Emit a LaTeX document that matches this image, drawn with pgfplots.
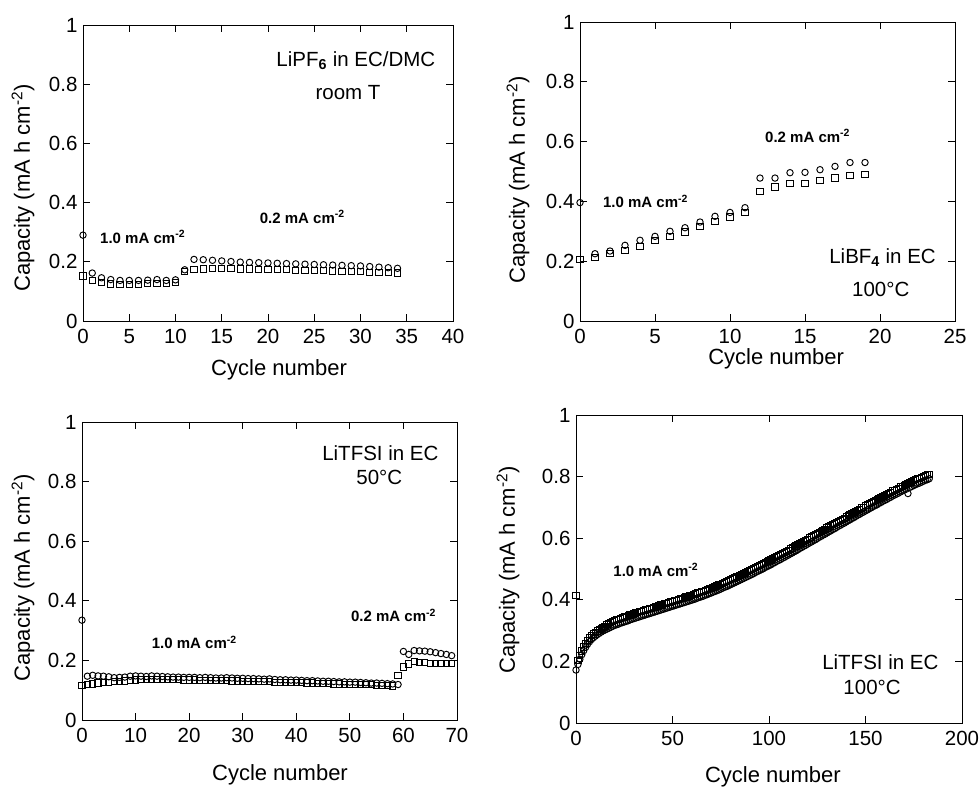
\documentclass[border=0pt]{standalone}
\usepackage{fontspec}
\setmainfont{Liberation Sans}
\usepackage{pgfplots}
\pgfplotsset{compat=1.18}
\usepackage{pgfplotstable}

% LiPF6 in EC/DMC, room T
\pgfplotstableread{
x c s
0 0.290 0.152
1 0.162 0.138
2 0.146 0.130
3 0.140 0.125
4 0.137 0.124
5 0.137 0.124
6 0.137 0.124
7 0.138 0.127
8 0.140 0.127
9 0.137 0.127
10 0.139 0.130
11 0.173 0.167
12 0.208 0.173
13 0.207 0.176
14 0.205 0.177
15 0.203 0.177
16 0.201 0.177
17 0.199 0.176
18 0.198 0.176
19 0.197 0.175
20 0.196 0.175
21 0.195 0.174
22 0.194 0.173
23 0.193 0.172
24 0.192 0.172
25 0.191 0.171
26 0.190 0.170
27 0.189 0.169
28 0.188 0.168
29 0.187 0.167
30 0.186 0.166
31 0.184 0.165
32 0.182 0.164
33 0.180 0.163
34 0.178 0.162
}\tabA

% LiBF4 in EC, 100 C
\pgfplotstableread{
x c s
0 0.396 0.206
1 0.225 0.212
2 0.234 0.225
3 0.253 0.236
4 0.270 0.250
5 0.283 0.270
6 0.300 0.284
7 0.312 0.298
8 0.331 0.317
9 0.350 0.333
10 0.363 0.348
11 0.379 0.362
12 0.478 0.434
13 0.478 0.448
14 0.496 0.461
15 0.497 0.460
16 0.506 0.470
17 0.517 0.478
18 0.530 0.487
19 0.530 0.490
}\tabB

% LiTFSI in EC, 50 C
\pgfplotstableread{
x c s
0 0.335 0.115
1 0.147 0.118
2 0.150 0.121
3 0.148 0.124
4 0.147 0.125
5 0.145 0.125
6 0.142 0.128
7 0.143 0.130
8 0.144 0.131
9 0.147 0.133
10 0.148 0.134
11 0.147 0.135
12 0.146 0.136
13 0.148 0.137
14 0.147 0.137
15 0.146 0.136
16 0.145 0.135
17 0.144 0.135
18 0.144 0.135
19 0.143 0.134
20 0.143 0.134
21 0.143 0.134
22 0.142 0.133
23 0.143 0.133
24 0.142 0.133
25 0.141 0.132
26 0.141 0.132
27 0.142 0.132
28 0.141 0.131
29 0.140 0.131
30 0.140 0.130
31 0.139 0.130
32 0.139 0.129
33 0.138 0.129
34 0.137 0.128
35 0.138 0.128
36 0.136 0.127
37 0.135 0.127
38 0.135 0.126
39 0.134 0.126
40 0.134 0.125
41 0.133 0.125
42 0.132 0.124
43 0.132 0.124
44 0.131 0.123
45 0.130 0.122
46 0.130 0.122
47 0.129 0.121
48 0.128 0.121
49 0.128 0.120
50 0.127 0.120
51 0.127 0.119
52 0.126 0.119
53 0.125 0.118
54 0.124 0.118
55 0.124 0.117
56 0.123 0.116
57 0.122 0.115
58 0.121 0.114
59 0.119 0.149
60 0.230 0.178
61 0.220 0.188
62 0.233 0.196
63 0.232 0.193
64 0.231 0.192
65 0.229 0.191
66 0.226 0.190
67 0.223 0.190
68 0.220 0.190
69 0.216 0.190
}\tabC

% LiTFSI in EC, 100 C
\pgfplotstableread{
x c s
0 .172 .415
1 .190 .202
2 .207 .219
3 .222 .234
4 .235 .247
5 .246 .258
6 .256 .268
7 .264 .276
8 .271 .283
9 .277 .289
10 .282 .294
11 .287 .299
12 .291 .303
13 .295 .307
14 .299 .311
15 .302 .314
16 .305 .321
17 .308 .324
18 .311 .327
19 .314 .330
20 .317 .333
21 .319 .335
22 .321 .337
23 .324 .340
24 .326 .342
25 .328 .344
26 .330 .346
27 .332 .348
28 .335 .351
29 .337 .353
30 .339 .355
31 .341 .357
32 .343 .359
33 .345 .361
34 .347 .363
35 .349 .365
36 .351 .367
37 .353 .369
38 .355 .371
39 .357 .373
40 .359 .375
41 .361 .377
42 .363 .379
43 .365 .381
44 .367 .383
45 .369 .385
46 .371 .387
47 .373 .389
48 .375 .391
49 .377 .393
50 .379 .395
51 .381 .397
52 .383 .399
53 .385 .401
54 .387 .403
55 .389 .405
56 .391 .407
57 .393 .409
58 .395 .411
59 .397 .413
60 .399 .415
61 .401 .417
62 .403 .419
63 .406 .422
64 .408 .424
65 .410 .426
66 .412 .428
67 .415 .431
68 .417 .433
69 .420 .436
70 .422 .438
71 .425 .441
72 .427 .443
73 .430 .446
74 .432 .448
75 .435 .451
76 .438 .454
77 .441 .457
78 .443 .459
79 .446 .462
80 .449 .465
81 .452 .468
82 .455 .471
83 .458 .474
84 .461 .477
85 .464 .480
86 .467 .483
87 .470 .486
88 .473 .489
89 .476 .492
90 .479 .495
91 .482 .498
92 .485 .501
93 .489 .505
94 .492 .508
95 .495 .511
96 .498 .514
97 .501 .517
98 .505 .521
99 .508 .524
100 .511 .527
101 .514 .530
102 .518 .534
103 .521 .537
104 .525 .541
105 .528 .544
106 .531 .547
107 .535 .551
108 .538 .554
109 .542 .558
110 .545 .561
111 .549 .565
112 .552 .568
113 .556 .572
114 .559 .575
115 .563 .579
116 .567 .583
117 .570 .586
118 .574 .590
119 .577 .593
120 .581 .597
121 .585 .601
122 .588 .604
123 .592 .608
124 .595 .611
125 .599 .615
126 .603 .619
127 .606 .622
128 .610 .626
129 .613 .629
130 .617 .633
131 .621 .637
132 .624 .640
133 .628 .644
134 .631 .647
135 .635 .651
136 .639 .655
137 .642 .658
138 .646 .662
139 .649 .665
140 .653 .669
141 .657 .673
142 .660 .676
143 .664 .680
144 .667 .683
145 .671 .687
146 .675 .691
147 .678 .694
148 .682 .698
149 .685 .701
150 .689 .705
151 .692 .708
152 .696 .712
153 .699 .715
154 .703 .719
155 .706 .722
156 .709 .725
157 .713 .729
158 .716 .732
159 .720 .736
160 .723 .739
161 .726 .742
162 .730 .746
163 .733 .749
164 .737 .753
165 .740 .756
166 .743 .759
167 .746 .762
168 .750 .766
169 .753 .769
170 .756 .772
171 .759 .775
172 .745 .778
173 .765 .781
174 .768 .784
175 .771 .787
176 .774 .790
177 .777 .793
178 .779 .795
179 .782 .798
180 .785 .801
181 .788 .804
182 .790 .806
183 .793 .808
}\tabD

\pgfplotsset{
  capstyle/.style={
    scale only axis, anchor=south west, clip=false,
    ymin=0, ymax=1, ytick={0,0.2,0.4,0.6,0.8,1},
    tick align=inside, major tick length=7pt,
    axis line style={line width=0.9pt},
    every tick/.style={black, line width=0.9pt},
    tick label style={font=\fontsize{20.5}{24}\selectfont},
    /pgf/number format/assume math mode=true,
    label style={font=\fontsize{22}{26}\selectfont},
    xlabel={Cycle number},
    ylabel={Capacity (mA h cm\textsuperscript{-2})},
    xticklabel style={yshift=-5pt},
    yticklabel style={xshift=-2pt},
  },
  circ/.style={only marks, mark=o, mark size=3.2pt, black, mark options={line width=0.95pt}},
  sq/.style={only marks, mark=square, mark size=3.1pt, black, mark options={line width=0.95pt}},
}
\tikzset{
  big/.style={font=\fontsize{20.5}{24}\selectfont, inner sep=0pt, anchor=base},
  rate/.style={font=\bfseries\fontsize{15}{18}\selectfont, inner sep=0pt, anchor=west},
}

\begin{document}
\begin{tikzpicture}[x=1pt,y=1pt]
\useasboundingbox (0,0) rectangle (979,789);

% top left
\begin{axis}[capstyle, at={(83pt,468pt)}, width=370pt, height=296pt,
  xmin=0, xmax=40, xtick={0,5,...,40},
  xlabel style={at={(axis description cs:0.53,-0.166)}, anchor=center},
  ylabel style={at={(axis description cs:-0.162,0.449)}, anchor=center}]
\addplot[circ] table[x=x,y=c] {\tabA};
\addplot[sq] table[x=x,y=s] {\tabA};
\node[big] at (axis cs:29.5,0.861) {LiPF\textsubscript{\textbf{6}} in EC/DMC};
\node[big] at (axis cs:28.65,0.747) {room T};
\node[rate] at (axis cs:1.84,0.284) {1.0 mA cm\textsuperscript{-2}};
\node[rate] at (axis cs:19.1,0.352) {0.2 mA cm\textsuperscript{-2}};
\end{axis}

% top right
\begin{axis}[capstyle, at={(580pt,468pt)}, width=375pt, height=299pt,
  xmin=0, xmax=25, xtick={0,5,...,25},
  xlabel style={at={(axis description cs:0.523,-0.125)}, anchor=center},
  ylabel style={at={(axis description cs:-0.165,0.472)}, anchor=center}]
\addplot[circ] table[x=x,y=c] {\tabB};
\addplot[sq] table[x=x,y=s] {\tabB};
\node[big] at (axis cs:20.17,0.193) {LiBF\textsubscript{\textbf{4}} in EC};
\node[big] at (axis cs:20.05,0.081) {100°C};
\node[rate] at (axis cs:1.53,0.399) {1.0 mA cm\textsuperscript{-2}};
\node[rate] at (axis cs:12.33,0.619) {0.2 mA cm\textsuperscript{-2}};
\end{axis}

% bottom left
\begin{axis}[capstyle, at={(82pt,69pt)}, width=375pt, height=298pt,
  xmin=0, xmax=70, xtick={0,10,...,70},
  xlabel style={at={(axis description cs:0.528,-0.185)}, anchor=center},
  ylabel style={at={(axis description cs:-0.157,0.477)}, anchor=center}]
\addplot[circ] table[x=x,y=c] {\tabC};
\addplot[sq] table[x=x,y=s] {\tabC};
\node[big] at (axis cs:55.7,0.872) {LiTFSI in EC};
\node[big] at (axis cs:55.5,0.791) {50°C};
\node[rate] at (axis cs:13.0,0.261) {1.0 mA cm\textsuperscript{-2}};
\node[rate] at (axis cs:50.2,0.352) {0.2 mA cm\textsuperscript{-2}};
\end{axis}

% bottom right
\begin{axis}[capstyle, at={(576pt,66pt)}, width=386pt, height=308pt,
  xmin=0, xmax=200, xtick={0,50,...,200},
  xlabel style={at={(axis description cs:0.51,-0.175)}, anchor=center},
  ylabel style={at={(axis description cs:-0.176,0.497)}, anchor=center}]
\addplot[circ] table[x=x,y=c] {\tabD};
\addplot[sq] table[x=x,y=s] {\tabD};
\node[big] at (axis cs:157.7,0.174) {LiTFSI in EC};
\node[big] at (axis cs:153.4,0.091) {100°C};
\node[rate] at (axis cs:19.3,0.497) {1.0 mA cm\textsuperscript{-2}};
\end{axis}
\end{tikzpicture}
\end{document}
